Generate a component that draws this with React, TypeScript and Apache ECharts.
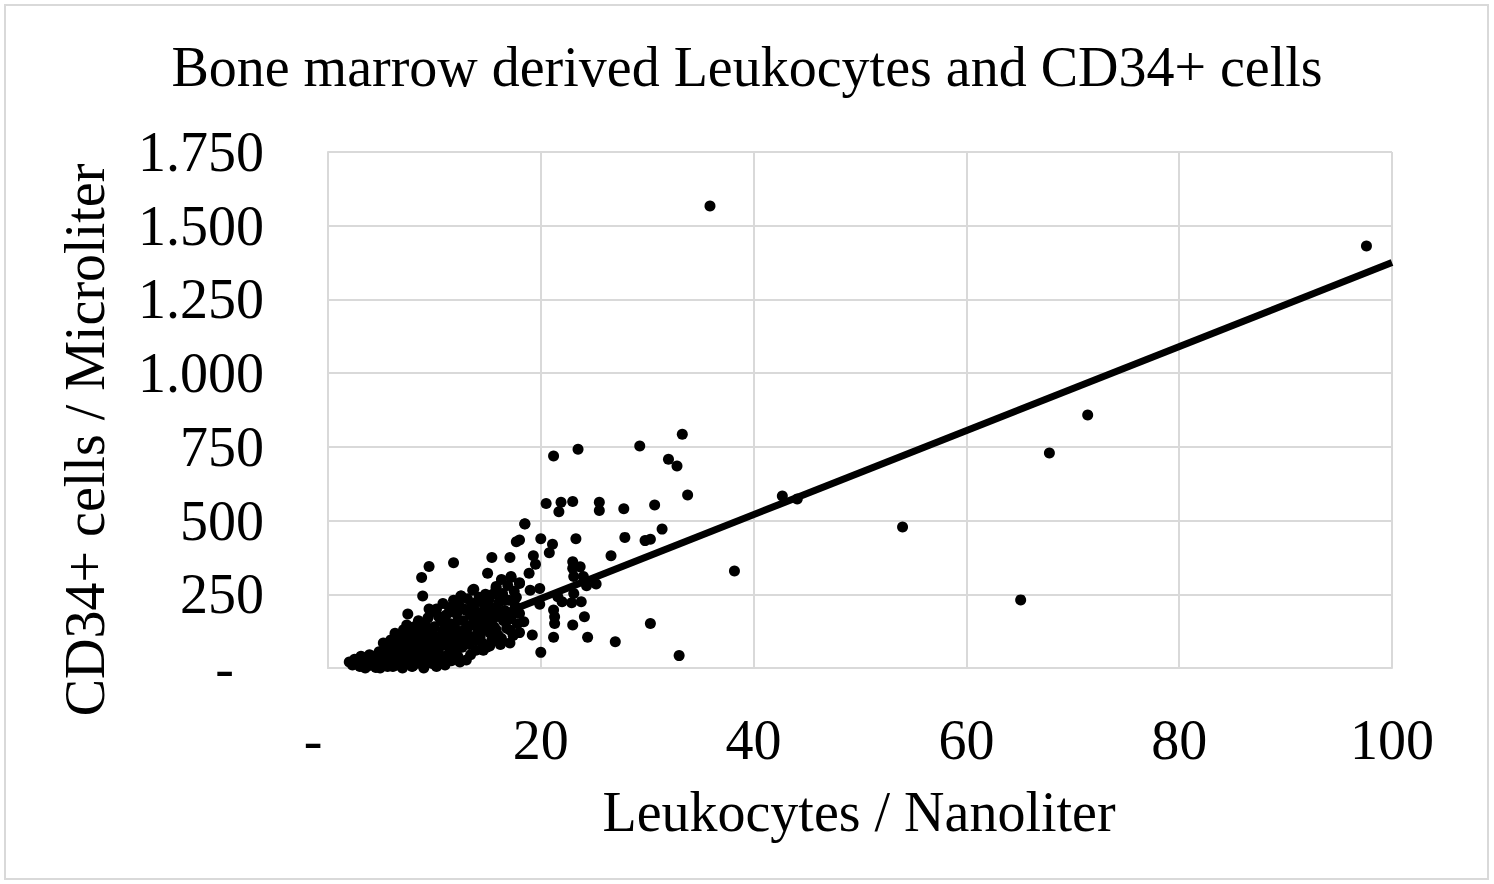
import React, { useEffect, useRef } from "react";
import * as echarts from "echarts";

const titleText = "Bone marrow derived Leukocytes and CD34+ cells";
const xAxisTitle = "Leukocytes / Nanoliter";
const yAxisTitle = "CD34+ cells / Microliter";

const xTicks = [0, 20, 40, 60, 80, 100];
const yTicks = [0, 250, 500, 750, 1000, 1250, 1500, 1750];

// Leukocytes (per nL), CD34+ cells (per µL)
const clusterPoints: [number, number][] = [
  [2.0, 20], [2.3, 10], [2.5, 30], [2.8, 15], [3.0, 5], [3.2, 25], [3.4, 12], [3.6, 35], [3.8, 8], [4.0, 20],
  [3.5, 0], [4.2, 40], [4.4, 15], [4.5, 2], [2.6, 22], [3.1, 40],
  [4.6, 30], [4.8, 55], [5.0, 10], [5.1, 45], [5.3, 25], [5.5, 70], [5.6, 5], [5.8, 40], [6.0, 60], [6.1, 20],
  [5.2, 85], [5.9, 95], [4.9, 0], [5.4, 15], [6.2, 80], [5.7, 30],
  [6.3, 118], [6.4, 50], [6.5, 10], [6.6, 75], [6.8, 100], [6.9, 30], [7.0, 60], [7.1, 130], [7.2, 85], [7.3, 15],
  [7.4, 146], [7.5, 183], [7.6, 45], [7.7, 110], [7.8, 70], [7.9, 5], [8.0, 95], [8.1, 140], [8.2, 25], [8.3, 60],
  [8.4, 120], [8.5, 160], [8.6, 40], [8.7, 85], [6.7, 55], [7.0, 20], [7.5, 100], [8.0, 50], [8.8, 110], [8.9, 10],
  [9.0, 70], [9.1, 150], [9.2, 30], [9.3, 100], [9.4, 170], [9.5, 55], [9.6, 120], [9.7, 191], [9.8, 15], [9.9, 85],
  [10.0, 140], [10.1, 45], [10.2, 200], [10.3, 105], [10.4, 65], [10.5, 17], [10.6, 160], [10.7, 90], [10.8, 219],
  [10.9, 130], [11.0, 40], [11.1, 180], [11.2, 75], [11.3, 110], [11.4, 205], [11.5, 150], [11.6, 25], [11.7, 95],
  [11.8, 230], [11.9, 60], [9.5, 200], [10.2, 5], [11.0, 160],
  [12.0, 130], [12.1, 185], [12.2, 40], [12.3, 215], [12.4, 100], [12.5, 244], [12.6, 70], [12.7, 160], [12.8, 200],
  [12.9, 120], [13.0, 27], [13.1, 235], [13.2, 140], [13.3, 80], [13.4, 180], [13.5, 210], [13.6, 105], [13.7, 267],
  [13.8, 155], [13.9, 60], [14.0, 190], [14.1, 125], [14.2, 240], [14.3, 106], [14.4, 170], [14.5, 85], [14.6, 220],
  [14.7, 145], [14.8, 195], [14.9, 70],
  [15.0, 160], [15.1, 230], [15.2, 120], [15.3, 185], [15.4, 95], [15.5, 250], [15.6, 140], [15.7, 205], [15.8, 270],
  [15.9, 175], [16.0, 110], [16.1, 225], [16.2, 80], [16.4, 247], [16.5, 160], [16.6, 195], [16.8, 135], [17.0, 230],
  [17.1, 85], [17.1, 129], [17.3, 180], [17.5, 260], [17.6, 210], [17.8, 150], [16.3, 300], [16.9, 280],
  [11.8, 357], [9.5, 344], [8.8, 307], [8.9, 244], [9.8, 193], [15.4, 375], [17.1, 375], [15.0, 321], [17.2, 310],
  [15.8, 276], [16.4, 253], [13.6, 264], [12.5, 244], [17.2, 307], [18.0, 289], [17.7, 428], [18.5, 488],
  [3.3, 30], [3.9, 45], [4.3, 28], [4.7, 12], [5.0, 35], [5.5, 50], [5.8, 15], [6.0, 40], [6.4, 90], [6.6, 35],
  [6.9, 80], [7.2, 50], [7.4, 30], [7.8, 125], [8.1, 75], [8.3, 100], [8.5, 20], [8.7, 135], [9.0, 45], [9.2, 125],
  [9.4, 85], [9.7, 35], [10.0, 110], [10.2, 75], [10.4, 175], [10.6, 30], [10.8, 120], [11.0, 95], [11.2, 140],
  [11.5, 55], [11.7, 190], [12.0, 85], [12.2, 160], [12.4, 20], [12.6, 125], [12.8, 90], [13.0, 195], [13.2, 110],
  [13.4, 45], [13.6, 150], [13.8, 220], [14.0, 95], [14.2, 175], [14.4, 130], [14.6, 60], [14.8, 250], [15.0, 200],
  [15.2, 75], [15.5, 170], [15.8, 130], [16.0, 190], [16.3, 100], [16.6, 230], [17.0, 165], [17.4, 110], [17.7, 240],
  [6.1, 5], [7.0, 0], [8.0, 8], [9.0, 0], [10.0, 30], [11.0, 10],
];

const midPoints: [number, number][] = [
  [33.3, 793], [29.3, 753], [23.5, 742], [21.2, 719], [32.0, 708], [32.8, 685], [33.8, 587], [20.5, 558],
  [21.9, 562], [21.7, 530], [23.0, 565], [25.5, 562], [25.5, 534], [27.8, 540], [30.7, 553], [18.5, 489],
  [31.4, 471], [27.9, 443], [29.8, 432], [30.3, 437], [18.0, 434], [20.0, 438], [23.3, 438], [21.1, 420],
  [20.8, 391], [19.3, 381], [19.5, 352], [26.6, 381], [23.0, 360], [23.0, 338], [23.7, 343], [18.9, 321],
  [18.0, 287], [23.1, 310], [24.0, 310], [24.3, 279], [25.2, 285], [19.0, 264], [19.9, 270], [21.6, 242],
  [22.0, 225], [23.1, 253], [22.9, 221], [23.8, 225], [19.9, 216], [21.2, 197], [21.3, 174], [21.3, 151],
  [18.0, 185], [18.4, 157], [24.1, 174], [23.0, 146], [18.0, 120], [19.2, 112], [21.2, 104], [24.4, 104],
  [27.0, 89], [20.0, 53], [33.0, 42], [30.3, 151],
];

const outlierPoints: [number, number][] = [
  [35.9, 1567], [97.6, 1431], [71.4, 858], [67.8, 729], [54.0, 478], [65.1, 231], [38.2, 329],
  [42.7, 583], [44.1, 573],
];

const trendX = [3.5, 100];
const trendY = [0, 1375];

const FONT = "'Liberation Serif', 'Times New Roman', serif";
const LABEL_SIZE = 56;
const TITLE_SIZE = 56;

export default function App() {
  const ref = useRef<HTMLDivElement>(null);

  useEffect(() => {
    document.body.style.margin = "0";
    if (!ref.current) return;
    const chart = echarts.init(ref.current, undefined, { renderer: "svg" });
    const allPoints = [...clusterPoints, ...midPoints, ...outlierPoints];
    const trendData = trendX.map((x, i) => [x, trendY[i]]);

    chart.setOption({
      animation: false,
      backgroundColor: "#ffffff",
      title: {
        text: titleText,
        left: "center",
        top: 34,
        textStyle: { fontFamily: FONT, fontSize: TITLE_SIZE, fontWeight: "normal", color: "#000" },
      },
      grid: { left: 328, right: 102, top: 152, bottom: 216, containLabel: false },
      xAxis: {
        type: "value",
        min: xTicks[0],
        max: xTicks[xTicks.length - 1],
        interval: 20,
        axisLine: { show: true, lineStyle: { color: "#d9d9d9", width: 2 } },
        axisTick: { show: false },
        splitLine: { show: true, lineStyle: { color: "#d9d9d9", width: 2 } },
        axisLabel: {
          margin: 44,
          fontFamily: FONT,
          fontSize: LABEL_SIZE,
          color: "#000",
          formatter: (v: number) => (v === 0 ? "{z|-}" : String(v)),
          rich: { z: { fontFamily: FONT, fontSize: LABEL_SIZE, color: "#000", padding: [0, 30, 0, 0] } },
        },
      },
      yAxis: {
        type: "value",
        min: yTicks[0],
        max: yTicks[yTicks.length - 1],
        interval: 250,
        axisLine: { show: true, lineStyle: { color: "#d9d9d9", width: 2 } },
        axisTick: { show: false },
        splitLine: { show: true, lineStyle: { color: "#d9d9d9", width: 2 } },
        axisLabel: {
          margin: 64,
          fontFamily: FONT,
          fontSize: LABEL_SIZE,
          color: "#000",
          formatter: (v: number) => {
            if (v === 0) return "{z|-}";
            const s = String(v);
            return s.length > 3 ? s.slice(0, s.length - 3) + "." + s.slice(s.length - 3) : s;
          },
          rich: { z: { fontFamily: FONT, fontSize: LABEL_SIZE, color: "#000", padding: [0, 30, 0, 0] } },
        },
      },
      graphic: [
        {
          type: "rect",
          shape: { x: 5, y: 5, width: 1483, height: 874 },
          style: { fill: "none", stroke: "#d9d9d9", lineWidth: 2 },
          silent: true,
        },
        {
          type: "text",
          x: 859,
          y: 812,
          style: {
            text: xAxisTitle,
            fontFamily: FONT,
            fontSize: TITLE_SIZE,
            fill: "#000",
            align: "center",
            verticalAlign: "middle",
          },
        },
        {
          type: "text",
          x: 85,
          y: 440,
          rotation: Math.PI / 2,
          style: {
            text: yAxisTitle,
            fontFamily: FONT,
            fontSize: TITLE_SIZE,
            fill: "#000",
            align: "center",
            verticalAlign: "middle",
          },
        },
      ],
      series: [
        {
          type: "scatter",
          data: allPoints,
          symbolSize: 11,
          itemStyle: { color: "#000", opacity: 1 },
          z: 3,
        },
        {
          type: "line",
          data: trendData,
          showSymbol: false,
          symbol: "none",
          lineStyle: { color: "#000", width: 7 },
          z: 4,
        },
      ],
    });

    return () => chart.dispose();
  }, []);

  return <div ref={ref} style={{ width: 1494, height: 884 }} />;
}
